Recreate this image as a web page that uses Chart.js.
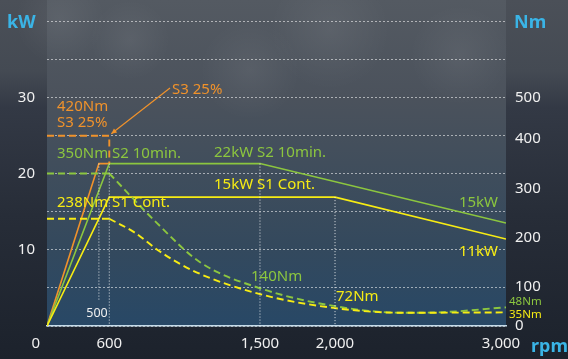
<!DOCTYPE html>
<html><head><meta charset="utf-8">
<script src="https://cdn.jsdelivr.net/npm/chart.js@4/dist/chart.umd.min.js"></script>
<style>html,body{margin:0;padding:0;background:#1f2631;overflow:hidden}</style>
</head><body>
<canvas id="c" width="568" height="359"></canvas>
<script>
// ---------- data ----------
const rpmTicks = [0, 600, 1500, 2000, 3000];
const kwTicks = [10, 20, 30];
const nmTicks = [0, 100, 200, 300, 400, 500];

// power curves (kW) vs rpm
const s3PowerRpm = [0, 500, 600];
const s3PowerKw  = [0, 21.3, 21.3];
const s2PowerRpm = [0, 600, 1500, 3000];
const s2PowerKw  = [0, 21.3, 21.3, 13.5];
const s1PowerRpm = [0, 600, 2000, 3000];
const s1PowerKw  = [0, 16.9, 16.9, 11.4];

// torque (Nm) vs rpm
const s3TorqueRpm = [0, 600, 600];
const s3TorqueNm  = [407, 407, 350];
const s2RatedRpm = [0, 600];
const s2RatedNm  = [330, 330];
const s2TorqueRpm = [600, 885, 1142, 1500, 2000, 2400, 2600, 3000];
const s2TorqueNm  = [330, 229, 150, 97, 51, 34, 35, 48];
const s1RatedRpm = [0, 600];
const s1RatedNm  = [238, 238];
const s1TorqueRpm = [600, 750, 900, 1100, 1500, 2000, 2400, 3000];
const s1TorqueNm  = [238, 210, 172, 133, 82, 46, 34, 35];

// guide (drop) lines
const dropRpm    = [500, 600, 1500, 2000];
const dropTopKw  = [21.3, 21.3, 21.3, 16.9];
const dropBotKw  = [3.4, 0, 0, 0];

// ---------- styling ----------
const ORANGE = '#f0922b', GREEN = '#8cc63f', YELLOW = '#f7ec13', BLUE = '#3ab4e6', WHITE = '#f0f0f0';
const FONT = '"Noto Sans", "DejaVu Sans", sans-serif';

// piecewise-linear scale (the reference axes are not evenly spaced)
const KNOTS = {
  x:  [[0, 0], [600, 0.1357], [1500, 0.464], [2000, 0.6275], [3000, 1]],
  y2: [[0, 0], [100, 0.1275], [200, 0.2908], [300, 0.451], [400, 0.6144], [500, 0.748], [690, 1]]
};
class PiecewiseScale extends Chart.LinearScale {
  _dec(v) {
    const k = KNOTS[this.id];
    for (let i = 1; i < k.length; i++) {
      if (v <= k[i][0] || i === k.length - 1) {
        const a = k[i - 1], b = k[i];
        return a[1] + (v - a[0]) * (b[1] - a[1]) / (b[0] - a[0]);
      }
    }
  }
  getPixelForValue(v) {
    if (v === null || v === undefined || isNaN(v)) return NaN;
    return this.getPixelForDecimal(this._dec(v));
  }
  getValueForPixel(p) {
    const d = this.getDecimalForPixel(p), k = KNOTS[this.id];
    for (let i = 1; i < k.length; i++) {
      if (d <= k[i][1] || i === k.length - 1) {
        const a = k[i - 1], b = k[i];
        return a[0] + (d - a[1]) * (b[0] - a[0]) / (b[1] - a[1]);
      }
    }
  }
}
PiecewiseScale.id = 'piecewise';
PiecewiseScale.defaults = {};
Chart.register(PiecewiseScale);

const pts = (xs, ys) => xs.map((x, i) => ({ x, y: ys[i] }));
const line = (data, color, axis, extra) => Object.assign({
  data, borderColor: color, yAxisID: axis, borderWidth: 1.6, pointRadius: 0, fill: false, tension: 0
}, extra || {});
const dashed = { borderDash: [7, 4], borderWidth: 1.9 };
const curve = Object.assign({ cubicInterpolationMode: 'monotone' }, dashed);

const datasets = [];
dropRpm.forEach((r, i) => datasets.push(line(pts([r, r], [dropTopKw[i], dropBotKw[i]]), 'rgba(255,255,255,0.85)', 'y', { borderWidth: 1, borderDash: [1, 2] })));
datasets.push(line(pts(s1RatedRpm, s1RatedNm), YELLOW, 'y2', dashed));
datasets.push(line(pts(s1TorqueRpm, s1TorqueNm), YELLOW, 'y2', curve));
datasets.push(line(pts(s2RatedRpm, s2RatedNm), GREEN, 'y2', dashed));
datasets.push(line(pts(s2TorqueRpm, s2TorqueNm), GREEN, 'y2', curve));
datasets.push(line(pts(s3TorqueRpm, s3TorqueNm), ORANGE, 'y2', dashed));
datasets.push(line(pts(s1PowerRpm, s1PowerKw), YELLOW, 'y'));
datasets.push(line(pts(s2PowerRpm, s2PowerKw), GREEN, 'y'));
datasets.push(line(pts(s3PowerRpm, s3PowerKw), ORANGE, 'y'));

const labels = [
  { t: '420Nm', x: 57, y: 111, c: ORANGE },
  { t: 'S3 25%', x: 57, y: 127, c: ORANGE },
  { t: 'S3 25%', x: 172, y: 94, c: ORANGE },
  { t: '350Nm S2 10min.', x: 57, y: 158, c: GREEN },
  { t: '22kW S2 10min.', x: 214, y: 157, c: GREEN },
  { t: '15kW S1 Cont.', x: 214, y: 189, c: YELLOW },
  { t: '238Nm S1 Cont.', x: 57, y: 207, c: YELLOW },
  { t: '15kW', x: 498, y: 207, c: GREEN, a: 'right' },
  { t: '11kW', x: 498, y: 256, c: YELLOW, a: 'right' },
  { t: '140Nm', x: 251, y: 281, c: GREEN },
  { t: '72Nm', x: 336, y: 301, c: YELLOW },
  { t: '48Nm', x: 509, y: 305, c: GREEN, s: 11.5 },
  { t: '35Nm', x: 509, y: 318, c: YELLOW, s: 11.5 },
  { t: '500', x: 97, y: 317, c: WHITE, a: 'center', s: 12.5 }
];

const bgPlugin = {
  id: 'bg',
  beforeDraw(chart) {
    const ctx = chart.ctx, a = chart.chartArea, W = chart.width, H = chart.height;
    ctx.save();
    let g = ctx.createLinearGradient(0, 0, 0, H);
    g.addColorStop(0, '#4b5058'); g.addColorStop(0.2, '#444a53');
    g.addColorStop(0.3, '#333945'); g.addColorStop(0.6, '#272d38'); g.addColorStop(1, '#1c222c');
    ctx.fillStyle = g; ctx.fillRect(0, 0, W, H);
    g = ctx.createLinearGradient(0, 0, 0, a.bottom);
    g.addColorStop(0, '#545a62'); g.addColorStop(0.3, '#4b525c'); g.addColorStop(0.5, '#414e5c');
    g.addColorStop(0.75, '#34495d'); g.addColorStop(1, '#284866');
    ctx.fillStyle = g; ctx.fillRect(a.left, 0, a.right - a.left, a.bottom);
    // faint clouds in the sky
    const clouds = [[130, 40, 40], [330, 30, 60], [460, 55, 50], [60, 20, 45], [250, 70, 50]];
    clouds.forEach(([cx, cy, r]) => {
      const rg = ctx.createRadialGradient(cx, cy, 0, cx, cy, r);
      rg.addColorStop(0, 'rgba(255,255,255,0.06)'); rg.addColorStop(1, 'rgba(255,255,255,0)');
      ctx.fillStyle = rg; ctx.fillRect(cx - r, cy - r, 2 * r, 2 * r);
    });
    ctx.restore();
  },
  afterDatasetsDraw(chart) {
    const ctx = chart.ctx, xs = chart.scales.x, y2 = chart.scales.y2;
    ctx.save();
    // arrow annotation for S3 25%
    const px = xs.getPixelForValue(600) + 2, py = y2.getPixelForValue(407) - 2;
    const ex = 170, ey = 88;
    ctx.strokeStyle = ORANGE; ctx.fillStyle = ORANGE; ctx.lineWidth = 1.2; ctx.setLineDash([]);
    ctx.beginPath(); ctx.moveTo(px, py); ctx.lineTo(ex, ey); ctx.stroke();
    const ang = Math.atan2(ey - py, ex - px);
    ctx.beginPath(); ctx.moveTo(px, py);
    ctx.lineTo(px + 6 * Math.cos(ang - 0.45), py + 6 * Math.sin(ang - 0.45));
    ctx.lineTo(px + 6 * Math.cos(ang + 0.45), py + 6 * Math.sin(ang + 0.45));
    ctx.closePath(); ctx.fill();
    // text labels
    ctx.textBaseline = 'alphabetic';
    labels.forEach(l => {
      ctx.font = (l.s || 15) + 'px ' + FONT;
      ctx.fillStyle = l.c; ctx.textAlign = l.a || 'left';
      ctx.fillText(l.t, l.x, l.y);
    });
    // axis titles
    ctx.font = 'bold 18px ' + FONT; ctx.fillStyle = BLUE;
    ctx.textAlign = 'left'; ctx.fillText('kW', 7, 28);
    ctx.fillText('Nm', 514, 28);
    ctx.fillText('rpm', 531, 352);
    ctx.restore();
  }
};

new Chart(document.getElementById('c'), {
  type: 'line',
  data: { datasets },
  plugins: [bgPlugin],
  options: {
    responsive: false, animation: false, events: [],
    layout: { padding: { top: 20, left: 0, right: 0, bottom: 0 } },
    plugins: { legend: { display: false }, tooltip: { enabled: false } },
    scales: {
      x: {
        type: 'piecewise', position: 'bottom', min: 0, max: 3000,
        grid: { display: false, drawTicks: false },
        border: { display: true, color: '#c6dbe9', width: 1.6 },
        ticks: { color: WHITE, font: { family: FONT, size: 15 }, padding: 9, autoSkip: false, maxRotation: 0,
                 callback: v => {
                   const s = Number(v).toLocaleString('en-US');
                   if (v === 0) return s + '\u2002\u2002\u2002';
                   if (v === 3000) return s + '\u2002\u2009';
                   return s;
                 } },
        afterBuildTicks: s => { s.ticks = rpmTicks.map(v => ({ value: v })); },
        afterFit: s => { s.height = 33; }
      },
      y: {
        type: 'linear', position: 'left', min: 0, max: 40,
        grid: { color: 'rgba(255,255,255,0.55)', lineWidth: 1, drawTicks: false },
        border: { display: false, dash: [2, 2] },
        ticks: { stepSize: 5, color: WHITE, font: { family: FONT, size: 15 }, padding: 12, autoSkip: false,
                 callback: v => kwTicks.includes(v) ? String(v) : '' },
        afterFit: s => { s.width = 47; }
      },
      y2: {
        type: 'piecewise', position: 'right', min: 0, max: 690,
        grid: { display: false, drawTicks: false },
        border: { display: false },
        ticks: { color: WHITE, font: { family: FONT, size: 15 }, padding: 9, autoSkip: false,
                 callback: v => String(v) },
        afterBuildTicks: s => { s.ticks = nmTicks.map(v => ({ value: v })); },
        afterFit: s => { s.width = 62; }
      }
    }
  }
});
</script>
</body></html>
